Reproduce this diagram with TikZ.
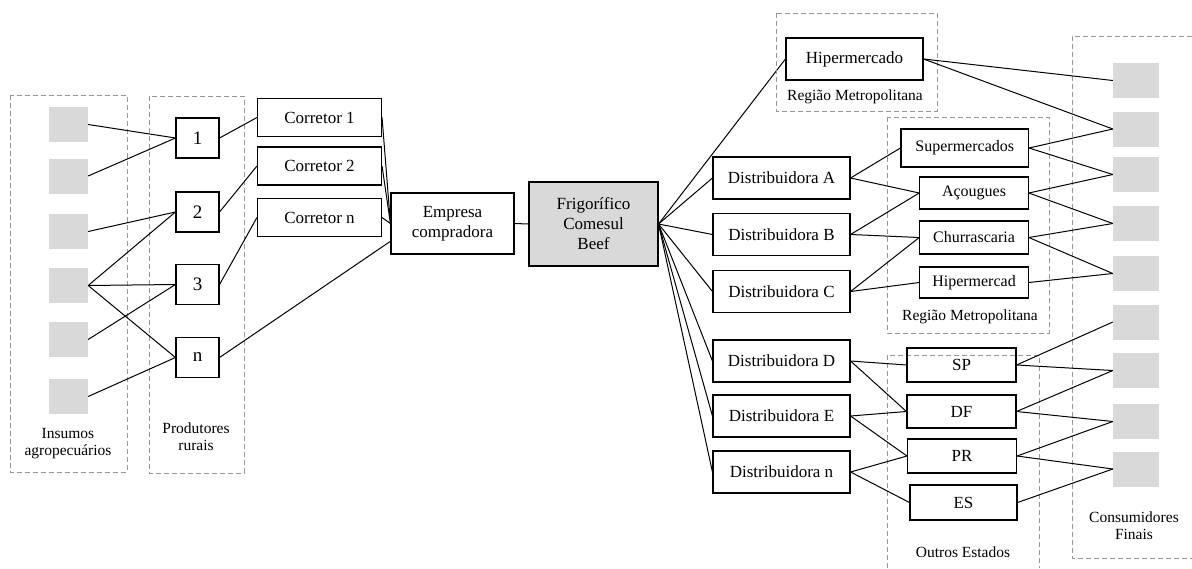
\documentclass[tikz,border=0pt]{standalone}
\usepackage{fontspec}
\setmainfont{Liberation Serif}
\definecolor{cinza}{RGB}{217,217,217}
\definecolor{tracejado}{RGB}{150,150,150}

\begin{document}
\begin{tikzpicture}[x=1pt, y=-1pt]
\tikzstyle{caixa} = [rectangle, draw = black, line width = 1.1pt, inner sep = 0pt, align = center, font = \fontsize{17}{20}\selectfont]
\tikzstyle{quadrado} = [rectangle, fill = cinza, inner sep = 0pt, minimum width = 39pt, minimum height = 35pt]
\tikzstyle{regiao} = [draw = tracejado, line width = 0.7pt, dash pattern = on 5pt off 3pt]
\tikzstyle{rotulo} = [align = center, inner sep = 0pt, font = \fontsize{15.5}{17}\selectfont]
\tikzstyle{edge} = [line width = 1pt]
\useasboundingbox (0,0) rectangle (1192,568);
% -----------------------------------
% Insumos agropecuarios
\draw[regiao] (10,95) rectangle (127,472);
\node[quadrado] (i1) at (68.5,124.5) {};
\node[quadrado] (i2) at (68.5,176) {};
\node[quadrado] (i3) at (68.5,231.5) {};
\node[quadrado] (i4) at (68.5,285.5) {};
\node[quadrado] (i5) at (68.5,339.5) {};
\node[quadrado] (i6) at (68.5,396.5) {};
\node[rotulo] (lblInsumos) at (68,443.5) {Insumos\\agropecuários};

% -----------------------------------
% Produtores rurais
\draw[regiao] (149,96) rectangle (244,473);
\node[caixa, minimum width = 43pt, minimum height = 40pt, font = \fontsize{19}{22}\selectfont] (p1) at (197.5,138) {1};
\node[caixa, minimum width = 43pt, minimum height = 40pt, font = \fontsize{19}{22}\selectfont] (p2) at (197.5,212) {2};
\node[caixa, minimum width = 43pt, minimum height = 40pt, font = \fontsize{19}{22}\selectfont] (p3) at (197.5,284.5) {3};
\node[caixa, minimum width = 43pt, minimum height = 40pt, font = \fontsize{19}{22}\selectfont] (pn) at (197.5,357.5) {n};
\node[rotulo] (lblProdutores) at (196,436.5) {Produtores\\rurais};

\draw[edge] (i1.east)--(p1.west);
\draw[edge] (i2.east)--(p1.west);
\draw[edge] (i3.east)--(p2.west);
\draw[edge] (i4.east)--(p2.west);
\draw[edge] (i4.east)--(p3.west);
\draw[edge] (i4.east)--(pn.west);
\draw[edge] (i5.east)--(p3.west);
\draw[edge] (i6.east)--(pn.west);

% -----------------------------------
% Corretores e empresa
\node[caixa, minimum width = 124pt, minimum height = 38pt] (c1) at (319.5,117.5) {Corretor 1};
\node[caixa, minimum width = 124pt, minimum height = 38pt] (c2) at (319.5,166) {Corretor 2};
\node[caixa, minimum width = 124pt, minimum height = 38pt] (cn) at (319.5,217.5) {Corretor n};
\node[caixa, minimum width = 123pt, minimum height = 61pt] (emp) at (452.5,223.5) {Empresa\\compradora};
\node[caixa, fill = cinza, minimum width = 129pt, minimum height = 84pt] (frig) at (593.5,224) {Frigorífico\\Comesul\\Beef};

\draw[edge] (p1.east)--(c1.west);
\draw[edge] (p2.east)--(c2.west);
\draw[edge] (p3.east)--(cn.west);
\draw[edge] (pn.east)--(emp.196);
\draw[edge] (c1.east)--(emp.west);
\draw[edge] (c2.east)--(emp.west);
\draw[edge] (cn.east)--(emp.west);
\draw[edge] (emp.east)--(frig.west);

% -----------------------------------
% Distribuidoras
\node[caixa, minimum width = 137pt, minimum height = 42pt] (hip) at (854.5,59) {Hipermercado};
\node[caixa, minimum width = 137pt, minimum height = 42pt] (dA) at (781.5,178) {Distribuidora A};
\node[caixa, minimum width = 137pt, minimum height = 42pt] (dB) at (781.5,234.5) {Distribuidora B};
\node[caixa, minimum width = 137pt, minimum height = 42pt] (dC) at (781.5,291.5) {Distribuidora C};
\node[caixa, minimum width = 137pt, minimum height = 42pt] (dD) at (781.5,361) {Distribuidora D};
\node[caixa, minimum width = 137pt, minimum height = 42pt] (dE) at (781.5,416) {Distribuidora E};
\node[caixa, minimum width = 137pt, minimum height = 42pt] (dN) at (781.5,472) {Distribuidora n};

\draw[edge] (frig.east)--(hip.west);
\draw[edge] (frig.east)--(dA.west);
\draw[edge] (frig.east)--(dB.west);
\draw[edge] (frig.east)--(dC.west);
\draw[edge] (frig.east)--(dD.west);
\draw[edge] (frig.east)--(dE.west);
\draw[edge] (frig.east)--(dN.west);

% -----------------------------------
% Regiao Metropolitana
\draw[regiao] (776,13) rectangle (937,111);
\node[rotulo] (lblRM1) at (855,97) {Região Metropolitana};
\draw[regiao] (887,117) rectangle (1049,333);
\node[rotulo] (lblRM2) at (970,317) {Região Metropolitana};
\node[caixa, minimum width = 127.5pt, minimum height = 38pt, font = \fontsize{16}{19}\selectfont] (sup) at (964.75,148) {Supermercados};
\node[caixa, minimum width = 108.5pt, minimum height = 32pt, font = \fontsize{16}{19}\selectfont] (aco) at (974,193) {Açougues};
\node[caixa, minimum width = 108.5pt, minimum height = 33pt, font = \fontsize{16}{19}\selectfont] (chu) at (974,237.5) {Churrascaria};
\node[caixa, minimum width = 108.5pt, minimum height = 31pt, font = \fontsize{16}{19}\selectfont] (hpc) at (974,282.5) {Hipermercad};

\draw[edge] (dA.east)--(sup.west);
\draw[edge] (dA.east)--(aco.west);
\draw[edge] (dB.east)--(aco.west);
\draw[edge] (dB.east)--(chu.west);
\draw[edge] (dC.east)--(chu.west);
\draw[edge] (dC.east)--(hpc.west);

% -----------------------------------
% Outros Estados
\draw[regiao] (887,568)--(887,355)--(1039,355)--(1039,568);
\node[rotulo] (lblOE) at (963,552) {Outros Estados};
\node[caixa, minimum width = 109pt, minimum height = 34pt] (sp) at (961.5,365) {SP};
\node[caixa, minimum width = 109pt, minimum height = 33pt] (df) at (961.5,411.5) {DF};
\node[caixa, minimum width = 109pt, minimum height = 34pt] (pr) at (962,456) {PR};
\node[caixa, minimum width = 107pt, minimum height = 35pt] (es) at (963.5,502.5) {ES};

\draw[edge] (dD.east)--(sp.west);
\draw[edge] (dD.east)--(df.west);
\draw[edge] (dE.east)--(df.west);
\draw[edge] (dE.east)--(pr.west);
\draw[edge] (dN.east)--(pr.west);
\draw[edge] (dN.east)--(es.west);

% -----------------------------------
% Consumidores finais
\draw[regiao] (1192,36)--(1072,36)--(1072,558)--(1192,558);
\node[quadrado, minimum width = 46pt] (f1) at (1136,80.5) {};
\node[quadrado, minimum width = 46pt] (f2) at (1136,129) {};
\node[quadrado, minimum width = 46pt] (f3) at (1136,174.5) {};
\node[quadrado, minimum width = 46pt] (f4) at (1136,223.5) {};
\node[quadrado, minimum width = 46pt] (f5) at (1136,273.5) {};
\node[quadrado, minimum width = 46pt] (f6) at (1136,322) {};
\node[quadrado, minimum width = 46pt] (f7) at (1136,370.5) {};
\node[quadrado, minimum width = 46pt] (f8) at (1136,421.5) {};
\node[quadrado, minimum width = 46pt] (f9) at (1136,469) {};
\node[rotulo] (lblConsumidores) at (1134,525.5) {Consumidores\\Finais};

\draw[edge] (hip.east)--(f1.west);
\draw[edge] (hip.east)--(f2.west);
\draw[edge] (sup.east)--(f2.west);
\draw[edge] (sup.east)--(f3.west);
\draw[edge] (aco.east)--(f3.west);
\draw[edge] (aco.east)--(f4.west);
\draw[edge] (chu.east)--(f4.west);
\draw[edge] (chu.east)--(f5.west);
\draw[edge] (hpc.east)--(f5.west);
\draw[edge] (sp.east)--(f6.west);
\draw[edge] (sp.east)--(f7.west);
\draw[edge] (df.east)--(f7.west);
\draw[edge] (df.east)--(f8.west);
\draw[edge] (pr.east)--(f8.west);
\draw[edge] (pr.east)--(f9.west);
\draw[edge] (es.east)--(f9.west);
% -----------------------------------
\end{tikzpicture}
\end{document}
